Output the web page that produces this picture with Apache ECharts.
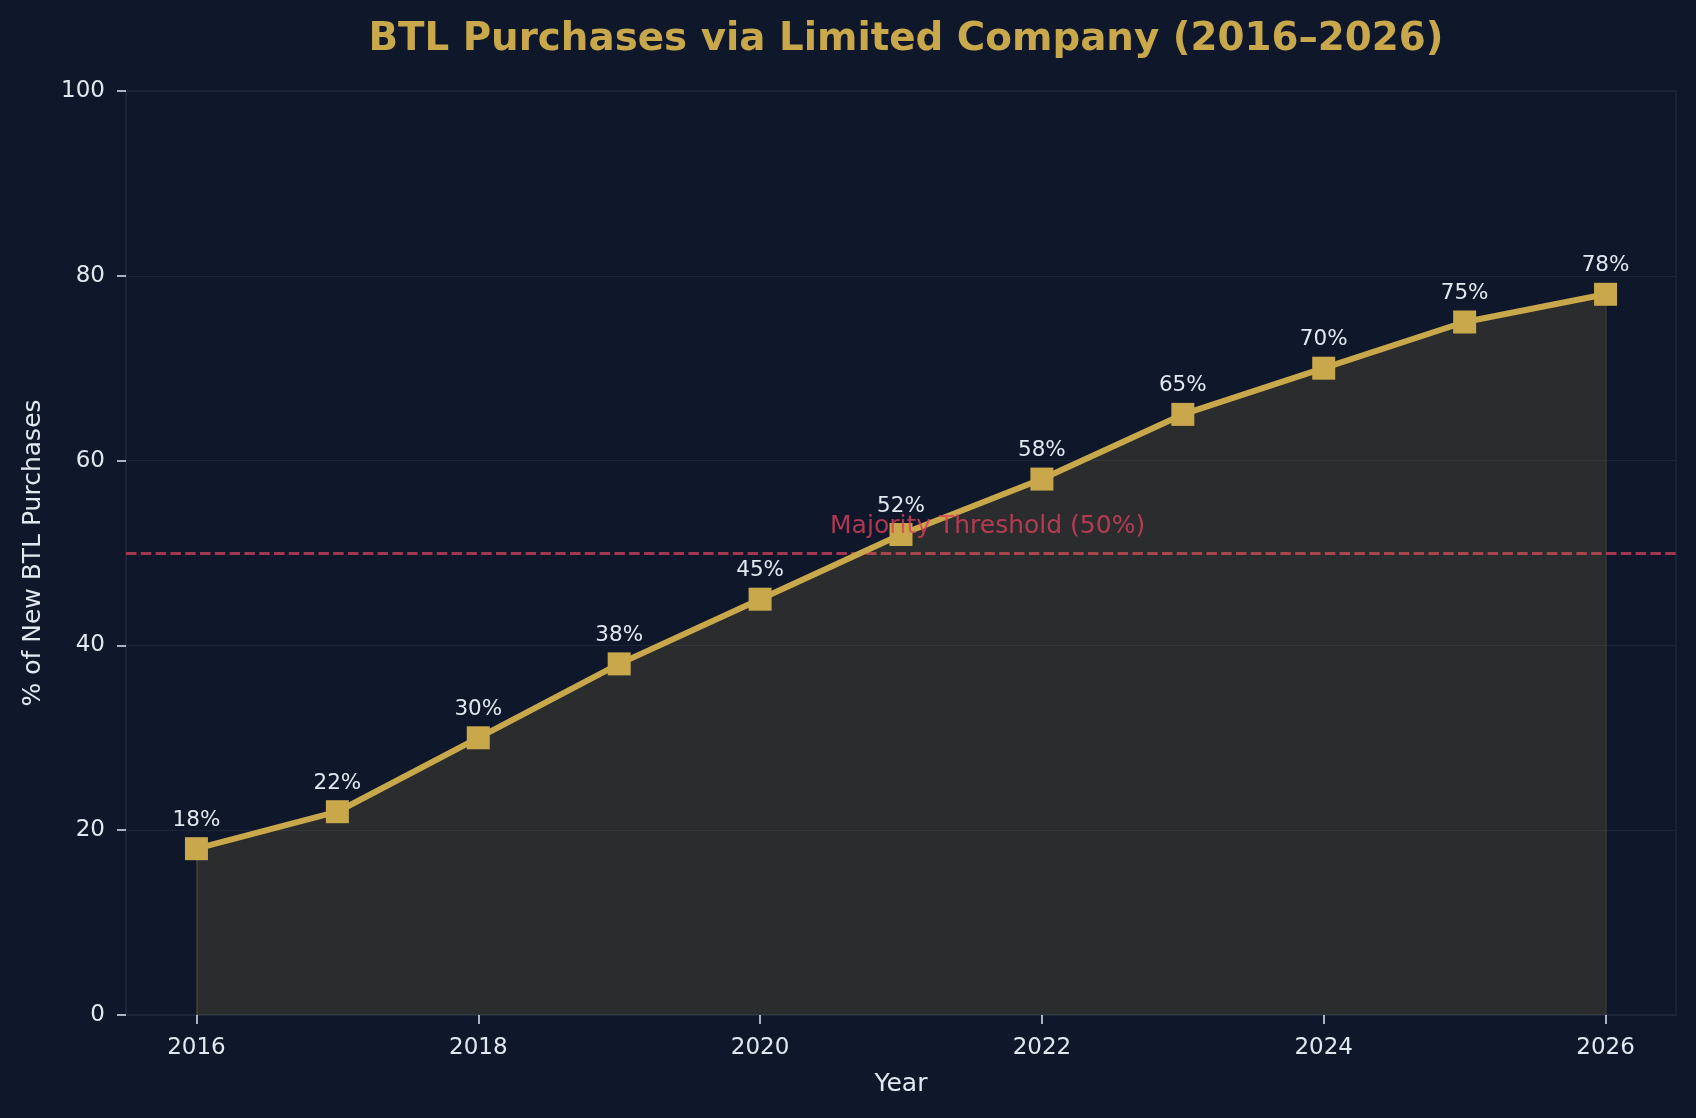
<!DOCTYPE html>
<html>
<head>
<meta charset="utf-8">
<script src="https://cdn.jsdelivr.net/npm/echarts@6/dist/echarts.min.js"></script>
<style>
  html, body { margin: 0; padding: 0; background: #0f172a; }
  #chart { width: 1696px; height: 1118px; }
</style>
</head>
<body>
<div id="chart"></div>
<script>
const YEARS = [2016, 2017, 2018, 2019, 2020, 2021, 2022, 2023, 2024, 2025, 2026];
const SHARE = [18, 22, 30, 38, 45, 52, 58, 65, 70, 75, 78];
const X_TICKS = [2016, 2018, 2020, 2022, 2024, 2026];
const THRESHOLD = 50;
const THRESHOLD_LABEL = 'Majority Threshold (50%)';
const THRESHOLD_TEXT_AT = [2020.5, 52];

const GOLD = '#c9a84c';
const TEXT = '#e2e8f0';
const FONT = 'DejaVu Sans';
const SPINE = '#1e293b';

const GRID = { left: 126, right: 20, top: 91, bottom: 103 };
const plotCenterX = GRID.left + (1696 - GRID.left - GRID.right) / 2;

const last = YEARS.length - 1;

const chart = echarts.init(document.getElementById('chart'));

chart.setOption({
  backgroundColor: '#0f172a',
  textStyle: { fontFamily: FONT },
  title: {
    text: 'BTL Purchases via Limited Company (2016–2026)',
    left: plotCenterX,
    textAlign: 'center',
    top: 15,
    textStyle: { color: GOLD, fontSize: 38.8, fontWeight: 'bold', fontFamily: FONT },
  },
  grid: {
    ...GRID,
    show: true,
    borderColor: SPINE,
    borderWidth: 1.5,
    backgroundColor: 'transparent',
  },
  xAxis: {
    type: 'value',
    min: 2015.5,
    max: 2026.5,
    name: 'Year',
    nameLocation: 'middle',
    nameGap: 57,
    nameTextStyle: { color: TEXT, fontSize: 25, fontFamily: FONT },
    axisLine: { show: true, lineStyle: { color: SPINE, width: 1.5 } },
    axisTick: {
      show: true,
      length: 9,
      customValues: X_TICKS,
      lineStyle: { color: TEXT, width: 1.5 },
    },
    axisLabel: {
      customValues: X_TICKS,
      color: TEXT,
      fontSize: 23,
      margin: 22,
      formatter: (v) => String(v),
    },
    splitLine: { show: false },
  },
  yAxis: {
    type: 'value',
    min: 0,
    max: 100,
    interval: 20,
    name: '% of New BTL Purchases',
    nameLocation: 'middle',
    nameGap: 80,
    nameTextStyle: { color: TEXT, fontSize: 25, fontFamily: FONT },
    axisLine: { show: true, lineStyle: { color: SPINE, width: 1.5 } },
    axisTick: { show: true, length: 9, lineStyle: { color: TEXT, width: 1.5 } },
    axisLabel: { color: TEXT, fontSize: 23, margin: 21 },
    splitLine: { show: true, lineStyle: { color: '#1c2536', width: 1.2 } },
  },
  series: [
    {
      type: 'line',
      data: YEARS.map((y, i) => [y, SHARE[i]]),
      symbol: 'rect',
      symbolSize: 23,
      lineStyle: { color: GOLD, width: 6 },
      itemStyle: { color: GOLD },
      areaStyle: { color: GOLD, opacity: 0.15 },
      label: {
        show: true,
        position: 'top',
        distance: 6,
        color: TEXT,
        fontSize: 21.5,
        fontFamily: FONT,
        formatter: (p) => p.value[1] + '%',
      },
      z: 3,
      markLine: {
        silent: true,
        symbol: 'none',
        label: { show: false },
        data: [
          [
            { coord: [YEARS[0], 0], lineStyle: { color: GOLD, type: 'solid', width: 1.5, opacity: 0.2 } },
            { coord: [YEARS[0], SHARE[0]] },
          ],
          [
            { coord: [YEARS[last], 0], lineStyle: { color: GOLD, type: 'solid', width: 1.5, opacity: 0.2 } },
            { coord: [YEARS[last], SHARE[last]] },
          ],
        ],
        z: 2,
      },
    },
    {
      // majority threshold line + its text annotation
      type: 'scatter',
      data: [{ value: THRESHOLD_TEXT_AT }],
      symbol: 'circle',
      symbolSize: 1,
      itemStyle: { color: 'rgba(0,0,0,0)' },
      silent: true,
      label: {
        show: true,
        position: [0, 0],
        align: 'left',
        verticalAlign: 'bottom',
        offset: [0, 5],
        color: '#d8405b',
        fontSize: 25,
        fontFamily: FONT,
        formatter: THRESHOLD_LABEL,
      },
      z: 10,
      zlevel: 1,
      markLine: {
        silent: true,
        symbol: 'none',
        label: { show: false },
        lineStyle: { color: '#a3364f', type: [10.5, 4.3], width: 3, opacity: 1 },
        data: [{ yAxis: THRESHOLD }],
        z: 2,
      },
    },
  ],
});
</script>
</body>
</html>
